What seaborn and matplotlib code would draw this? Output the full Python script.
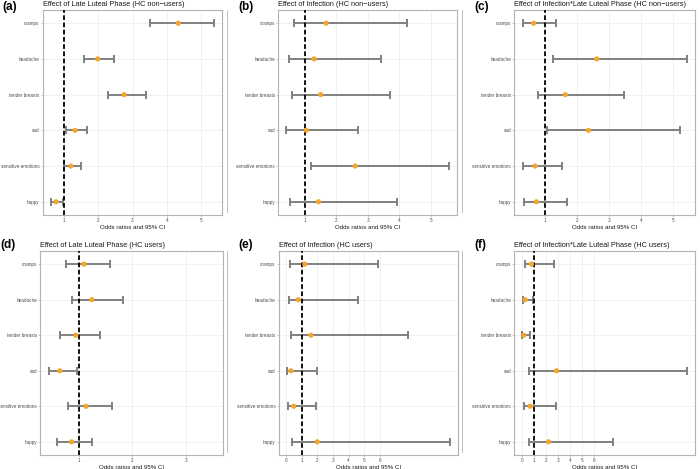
import numpy as np
import pandas as pd
import seaborn as sns
import matplotlib.pyplot as plt
from matplotlib.lines import Line2D

# Symptoms, top to bottom
symptoms = ['cramps', 'headache', 'tender breasts', 'sad', 'sensitive emotions', 'happy']

titles = ['Effect of Late Luteal Phase (HC non\u2212users)',
          'Effect of Infection (HC non\u2212users)',
          'Effect of Infection*Late Luteal Phase (HC non\u2212users)',
          'Effect of Late Luteal Phase (HC users)',
          'Effect of Infection (HC users)',
          'Effect of Infection*Late Luteal Phase (HC users)']
tags = ['(a)', '(b)', '(c)', '(d)', '(e)', '(f)']

# odds ratios, lower and upper 95% CI (order as in symptoms)
or_a = [4.33, 1.99, 2.76, 1.33, 1.21, 0.78]
lo_a = [3.50, 1.59, 2.30, 1.08, 1.00, 0.63]
hi_a = [5.36, 2.45, 3.38, 1.67, 1.49, 0.97]

or_b = [1.67, 1.29, 1.50, 1.04, 2.60, 1.43]
lo_b = [0.66, 0.48, 0.59, 0.41, 1.20, 0.53]
hi_b = [4.25, 3.43, 3.71, 2.69, 5.59, 3.94]

or_c = [0.65, 2.62, 1.64, 2.36, 0.70, 0.74]
lo_c = [0.31, 1.26, 0.78, 1.06, 0.32, 0.34]
hi_c = [1.34, 5.42, 3.47, 5.22, 1.54, 1.68]

or_d = [1.09, 1.24, 0.94, 0.64, 1.13, 0.86]
lo_d = [0.75, 0.86, 0.64, 0.43, 0.79, 0.59]
hi_d = [1.58, 1.83, 1.39, 0.97, 1.62, 1.25]

or_e = [1.19, 0.78, 1.59, 0.31, 0.48, 1.99]
lo_e = [0.23, 0.15, 0.30, 0.05, 0.12, 0.36]
hi_e = [5.89, 4.57, 7.82, 1.98, 1.90, 10.48]

or_f = [0.78, 0.25, 0.14, 2.86, 0.67, 2.19]
lo_f = [0.22, 0.08, 0.03, 0.58, 0.17, 0.61]
hi_f = [2.61, 0.92, 0.64, 13.68, 2.81, 7.53]

ors = [or_a, or_b, or_c, or_d, or_e, or_f]
los = [lo_a, lo_b, lo_c, lo_d, lo_e, lo_f]
his = [hi_a, hi_b, hi_c, hi_d, hi_e, hi_f]

# x limits and breaks per panel
xlims = [(0.39, 5.6), (0.15, 5.85), (0.05, 5.68), (0.275, 3.69), (-0.48, 10.99), (-0.65, 14.36)]
xbreaks = [[1, 2, 3, 4, 5], [1, 2, 3, 4, 5], [1, 2, 3, 4, 5], [1, 2, 3],
           [0, 1, 2, 3, 4, 5, 6], [0, 1, 2, 3, 4, 5, 6]]

sns.set_theme(style='white')
plt.rcParams['font.family'] = ['Liberation Sans', 'DejaVu Sans']

fig = plt.figure(figsize=(7, 4.69), dpi=100)
W, H = 700, 469

# axes boxes in pixels: left, top, right, bottom
boxes = [(42.7, 10, 222, 215), (278.3, 10, 457.3, 215), (514.3, 10, 695, 215),
         (40.3, 251, 222.7, 455), (278.7, 251, 457.7, 455), (514.3, 251, 695, 455)]
side_x = [227, 462, 699.5]
tag_y = [7, 7, 7, 245, 245, 245]

for i in range(6):
    l, t, r, b = boxes[i]
    ax = fig.add_axes([l / W, 1 - b / H, (r - l) / W, (b - t) / H])
    df = pd.DataFrame({'symptom': symptoms, 'OR': ors[i], 'lo': los[i], 'hi': his[i]})
    df['pos'] = np.arange(len(symptoms))[::-1]

    ax.grid(True, color='#EBEBEB', linewidth=0.5, zorder=0)
    ax.errorbar(df['OR'], df['pos'],
                xerr=[df['OR'] - df['lo'], df['hi'] - df['OR']],
                fmt='none', ecolor='#808080', elinewidth=1.4, capsize=2.7,
                capthick=1.4, zorder=2)
    ax.axvline(1, color='black', linewidth=1.3, linestyle=(0, (2.6, 1.4)), zorder=3)
    sns.scatterplot(data=df, x='OR', y='pos', color='#F4A62A', s=14,
                    edgecolor='none', zorder=4, ax=ax)

    ax.set_xlim(*xlims[i])
    ax.set_ylim(-0.37, 5.37)
    ax.set_xticks(xbreaks[i])
    ax.set_yticks(df['pos'])
    ax.set_yticklabels(symptoms)
    ax.tick_params(axis='both', labelsize=3.3, colors='#B3B3B3', length=1.5, width=0.5,
                   pad=0.8, labelcolor='#4D4D4D', left=True, bottom=True)
    for s in ax.spines.values():
        s.set_color('#B3B3B3')
        s.set_linewidth(0.8)
    ax.set_ylabel('')
    ax.set_xlabel('Odds ratios and 95% CI', fontsize=4.4, labelpad=1, color='#1A1A1A')
    ax.set_title(titles[i], fontsize=5.3, loc='left', pad=3, color='#1A1A1A')

    col = i % 3
    fig.text((l - 40) / W, 1 - tag_y[i] / H, tags[i], fontsize=8.5, fontweight='bold',
             ha='left', va='center', color='black')
    fig.add_artist(Line2D([side_x[col] / W] * 2, [1 - t / H, 1 - (b - 3) / H],
                          color='#B3B3B3', linewidth=0.6))

fig.savefig('out.png', dpi=100)
